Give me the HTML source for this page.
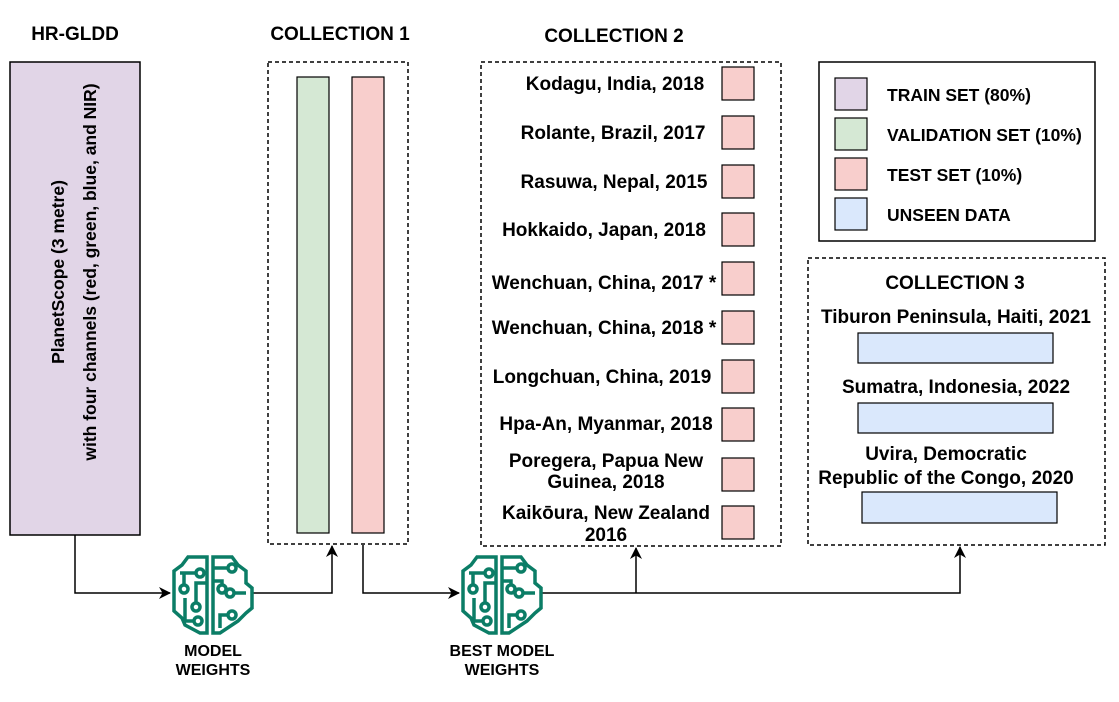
<!DOCTYPE html>
<html><head><meta charset="utf-8"><style>
html,body{margin:0;padding:0;background:#fff}
svg{display:block;font-family:"Liberation Sans",sans-serif;font-weight:bold}
</style></head><body>
<svg width="1119" height="702" viewBox="0 0 1119 702" xmlns="http://www.w3.org/2000/svg">
<defs>
<marker id="ah" markerWidth="12" markerHeight="12" refX="11" refY="6" orient="auto" markerUnits="userSpaceOnUse">
<path d="M0,0 L12,6 L0,12 L3.5,6 Z" fill="#000"/></marker>
<g id="brain" fill="none" stroke="#0b7d66" stroke-width="3.5">
<path d="M-3,-36 L-22,-36 L-28,-28 L-36,-22 L-36,18 L-28,25 L-25,32 L-10,40 L-3,40 Z"/>
<path d="M3,-36 L22,-36 L28,-28 L36,-22 L36,-10 L42,-5 L42,15 L36,20 L28,28 L10,40 L3,40 Z"/>
<path d="M-3,-10 L-14,-10 L-14,10"/><circle cx="-14" cy="14" r="4"/>
<path d="M-30,-20 L-14,-20"/><circle cx="-10" cy="-20" r="4"/>
<path d="M-26,-20 L-26,-8"/><circle cx="-26" cy="-4" r="4"/>
<path d="M-25,5 L-25,28 L-16,28"/><circle cx="-12" cy="28" r="4"/>
<path d="M3,-12 L12,-12 L12,-8"/><circle cx="12" cy="-4" r="4"/>
<path d="M3,-25 L18,-25"/><circle cx="22" cy="-25" r="4"/>
<path d="M24,0 L36,0"/><circle cx="20" cy="0" r="4"/>
<path d="M10,35 L10,22 L18,22"/><circle cx="22" cy="22" r="4"/>
</g>
</defs>
<g font-size="19" text-anchor="middle">
<text x="75" y="40">HR-GLDD</text>
<text x="340" y="40">COLLECTION 1</text>
<text x="614" y="42">COLLECTION 2</text>
</g>
<rect x="10" y="62" width="130" height="473" fill="#e1d5e7" stroke="#000" stroke-width="1.5"/>
<text transform="translate(75,272) rotate(-90)" text-anchor="middle" font-size="17.5"><tspan x="0" y="-11">PlanetScope (3 metre)</tspan><tspan x="0" y="21">with four channels (red, green, blue, and NIR)</tspan></text>

<rect x="268" y="62" width="140" height="482" fill="none" stroke="#000" stroke-width="1.5" stroke-dasharray="4,3"/>
<rect x="297" y="77" width="32" height="456" fill="#d5e8d4" stroke="#000" stroke-width="1.2"/>
<rect x="352" y="77" width="32" height="456" fill="#f8cecc" stroke="#000" stroke-width="1.2"/>

<rect x="481" y="62" width="300" height="484" fill="none" stroke="#000" stroke-width="1.5" stroke-dasharray="4,3"/>
<g fill="#f8cecc" stroke="#000" stroke-width="1.2">
<rect x="722" y="67" width="32" height="33"/><rect x="722" y="116" width="32" height="33"/>
<rect x="722" y="165" width="32" height="33"/><rect x="722" y="213" width="32" height="33"/>
<rect x="722" y="262" width="32" height="33"/><rect x="722" y="311" width="32" height="33"/>
<rect x="722" y="360" width="32" height="33"/><rect x="722" y="408" width="32" height="33"/>
<rect x="722" y="458" width="32" height="33"/><rect x="722" y="506" width="32" height="33"/>
</g>
<g font-size="19" text-anchor="middle">
<text x="615" y="90">Kodagu, India, 2018</text>
<text x="613" y="139">Rolante, Brazil, 2017</text>
<text x="614" y="188">Rasuwa, Nepal, 2015</text>
<text x="604" y="236">Hokkaido, Japan, 2018</text>
<text x="604" y="289">Wenchuan, China, 2017 *</text>
<text x="604" y="334">Wenchuan, China, 2018 *</text>
<text x="602" y="383">Longchuan, China, 2019</text>
<text x="606" y="430">Hpa-An, Myanmar, 2018</text>
<text x="606" y="467">Poregera, Papua New</text>
<text x="606" y="488">Guinea, 2018</text>
<text x="606" y="519">Kaikōura, New Zealand</text>
<text x="606" y="541">2016</text>
</g>

<rect x="819" y="62" width="276" height="179" fill="none" stroke="#000" stroke-width="1.5"/>
<rect x="835" y="78" width="32" height="32" fill="#e1d5e7" stroke="#000" stroke-width="1.2"/>
<rect x="835" y="118" width="32" height="32" fill="#d5e8d4" stroke="#000" stroke-width="1.2"/>
<rect x="835" y="158" width="32" height="32" fill="#f8cecc" stroke="#000" stroke-width="1.2"/>
<rect x="835" y="198" width="32" height="32" fill="#dae8fc" stroke="#000" stroke-width="1.2"/>
<g font-size="17.5">
<text x="887" y="101">TRAIN SET (80%)</text>
<text x="887" y="141">VALIDATION SET (10%)</text>
<text x="887" y="181">TEST SET (10%)</text>
<text x="887" y="221">UNSEEN DATA</text>
</g>

<rect x="808" y="258" width="297" height="287" fill="none" stroke="#000" stroke-width="1.5" stroke-dasharray="4,3"/>
<g font-size="19" text-anchor="middle">
<text x="955" y="289">COLLECTION 3</text>
<text x="956" y="323">Tiburon Peninsula, Haiti, 2021</text>
<text x="956" y="393">Sumatra, Indonesia, 2022</text>
<text x="946" y="460">Uvira, Democratic</text>
<text x="946" y="484">Republic of the Congo, 2020</text>
</g>
<g fill="#dae8fc" stroke="#000" stroke-width="1.2">
<rect x="858" y="333" width="195" height="30"/>
<rect x="858" y="403" width="195" height="30"/>
<rect x="862" y="492" width="195" height="31"/>
</g>

<g fill="none" stroke="#000" stroke-width="1.5">
<path d="M75,535 L75,593 L170,593" marker-end="url(#ah)"/>
<path d="M252,593 L332,593 L332,546" marker-end="url(#ah)"/>
<path d="M363,545 L363,593 L459,593" marker-end="url(#ah)"/>
<path d="M540,593 L960,593 L960,547" marker-end="url(#ah)"/>
<path d="M636,593 L636,548" marker-end="url(#ah)"/>
</g>
<use href="#brain" x="210" y="593"/>
<use href="#brain" x="499" y="593"/>
<g font-size="16" text-anchor="middle">
<text x="213" y="656">MODEL</text>
<text x="213" y="675">WEIGHTS</text>
<text x="502" y="656">BEST MODEL</text>
<text x="502" y="675">WEIGHTS</text>
</g>
</svg>
</body></html>
